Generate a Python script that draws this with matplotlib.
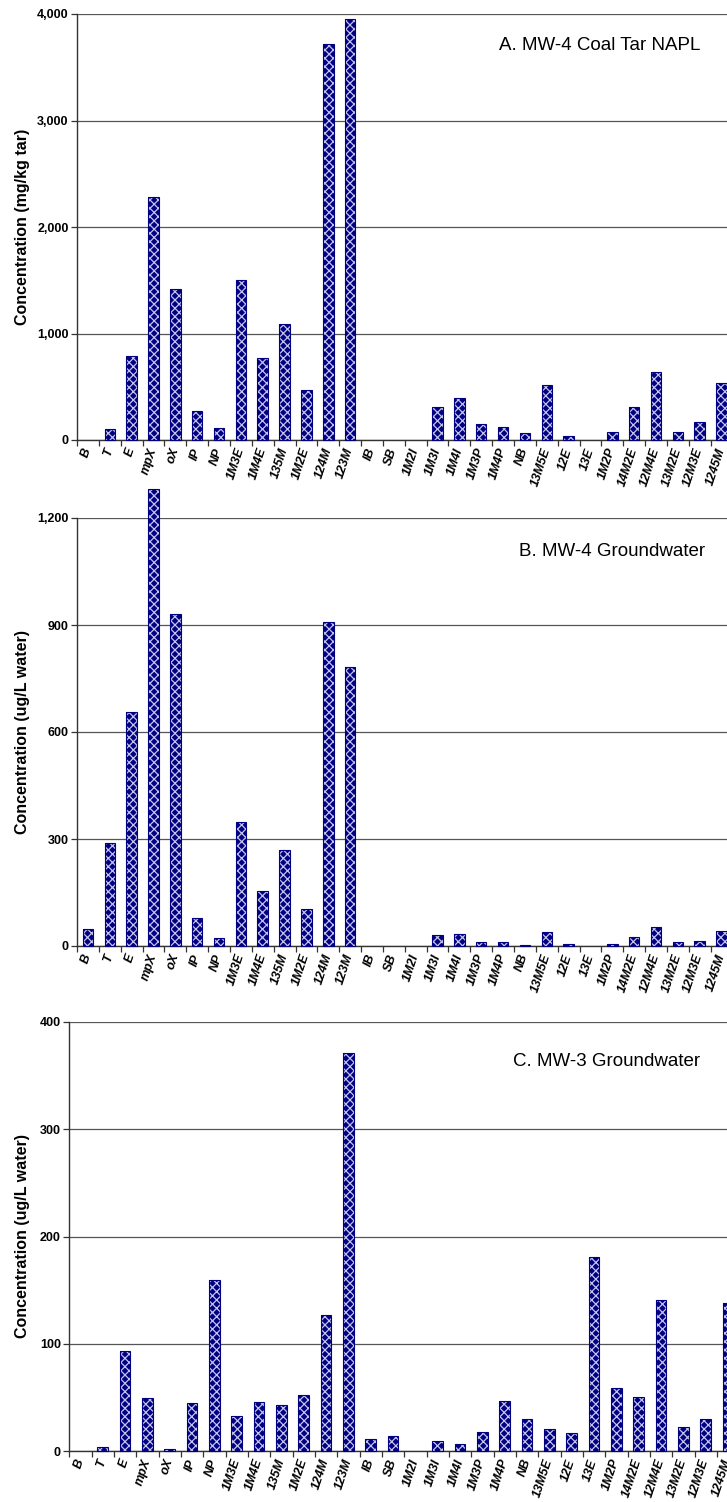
import numpy as np
import matplotlib
matplotlib.use('Agg')
import matplotlib.pyplot as plt
from matplotlib.ticker import FuncFormatter

plt.rcParams['font.family'] = ['Liberation Sans', 'DejaVu Sans']
plt.rcParams['hatch.linewidth'] = 0.9

compounds = ['B', 'T', 'E', 'mpX', 'oX', 'IP', 'NP', '1M3E', '1M4E', '135M',
             '1M2E', '124M', '123M', 'IB', 'SB', '1M2I', '1M3I', '1M4I', '1M3P',
             '1M4P', 'NB', '13M5E', '12E', '13E', '1M2P', '14M2E', '12M4E',
             '13M2E', '12M3E', '1245M']

# A. MW-4 coal tar NAPL (mg/kg tar)
napl_mw4 = [0, 100, 790, 2280, 1420, 270, 109, 1500, 770, 1090,
            474, 3720, 3950, 0, 0, 0, 310, 395, 150,
            119, 66, 514, 38, 0, 75, 310, 640,
            75, 169, 533]

# B. MW-4 groundwater (ug/L water)
gw_mw4 = [48, 290, 655, 1280, 932, 79, 23, 348, 155, 270,
          105, 908, 781, 0, 0, 0, 30, 35, 12,
          10, 4, 40, 5, 0, 6, 26, 54,
          10, 14, 43]

# C. MW-3 groundwater (ug/L water)
gw_mw3 = [0, 3.4, 93, 49, 2, 45, 159, 32.6, 45.3, 42.5,
          51.9, 126.4, 371, 11.2, 13.7, 0, 9.6, 6.8, 17.4,
          46.3, 29.5, 20.2, 16.5, 181, 58.4, 50, 141,
          22, 29.7, 138]

W, H = 727, 1502
fig = plt.figure(figsize=(W / 100, H / 100), dpi=100)

panels = [
    # values, ymax, ystep, title, ylabel, axes box in pixels (left, top, bottom, step), title pos
    (napl_mw4, 4000, 1000, 'A. MW-4 Coal Tar NAPL', 'Concentration (mg/kg tar)',
     (77, 14, 440, 21.85), (700, 46)),
    (gw_mw4, 1200, 300, 'B. MW-4 Groundwater', 'Concentration (ug/L water)',
     (77, 518, 946, 21.85), (705, 552)),
    (gw_mw3, 400, 100, 'C. MW-3 Groundwater', 'Concentration (ug/L water)',
     (69.3, 1022, 1451, 22.33), (700, 1062)),
]

navy = '#000080'
x = np.arange(len(compounds))

for vals, ymax, ystep, title, ylab, box, tpos in panels:
    left, top, bottom, step = box
    vals = np.array(vals, dtype=float)
    nz = vals > 0
    ax = fig.add_axes([left / W, 1 - bottom / H, step * len(compounds) / W, (bottom - top) / H])
    ax.bar(x[nz], vals[nz], width=0.48, color=navy, edgecolor='#c4c4ee', hatch='xxxx',
           linewidth=0, zorder=3, clip_on=False)
    ax.bar(x[nz], vals[nz], width=0.48, fill=False, edgecolor=navy, linewidth=0.8,
           zorder=4, clip_on=False)
    ax.set_xlim(-0.5, len(compounds) - 0.5)
    ax.set_ylim(0, ymax)
    ax.set_yticks(np.arange(0, ymax + 1, ystep))
    ax.yaxis.set_major_formatter(FuncFormatter(lambda v, p: f'{v:,.0f}'))
    ax.yaxis.grid(True, color='#555555', linewidth=0.9, zorder=0)
    ax.set_xticks(x)
    ax.set_xticklabels(compounds, rotation=72, ha='right', va='center',
                       rotation_mode='anchor', fontsize=9, fontweight='bold',
                       fontstyle='italic')
    ax.set_xticks(np.arange(-0.5, len(compounds)), minor=True)
    ax.tick_params(axis='x', which='major', length=0, pad=6)
    ax.tick_params(axis='x', which='minor', length=4, width=0.9, color='#333333')
    ax.tick_params(axis='y', length=4, width=0.9, color='#333333', labelsize=9, pad=2)
    for lab in ax.get_yticklabels():
        lab.set_fontweight('bold')
    for s in ['top', 'right']:
        ax.spines[s].set_visible(False)
    for s in ['left', 'bottom']:
        ax.spines[s].set_color('#333333')
        ax.spines[s].set_linewidth(1.0)
    fig.text(tpos[0] / W, 1 - tpos[1] / H, title, ha='right', va='center', fontsize=13.5)
    fig.text(23 / W, 1 - (top + bottom) / 2 / H, ylab, rotation=90, ha='center',
             va='center', fontsize=11.5, fontweight='bold')

fig.savefig('out.png', dpi=100)
